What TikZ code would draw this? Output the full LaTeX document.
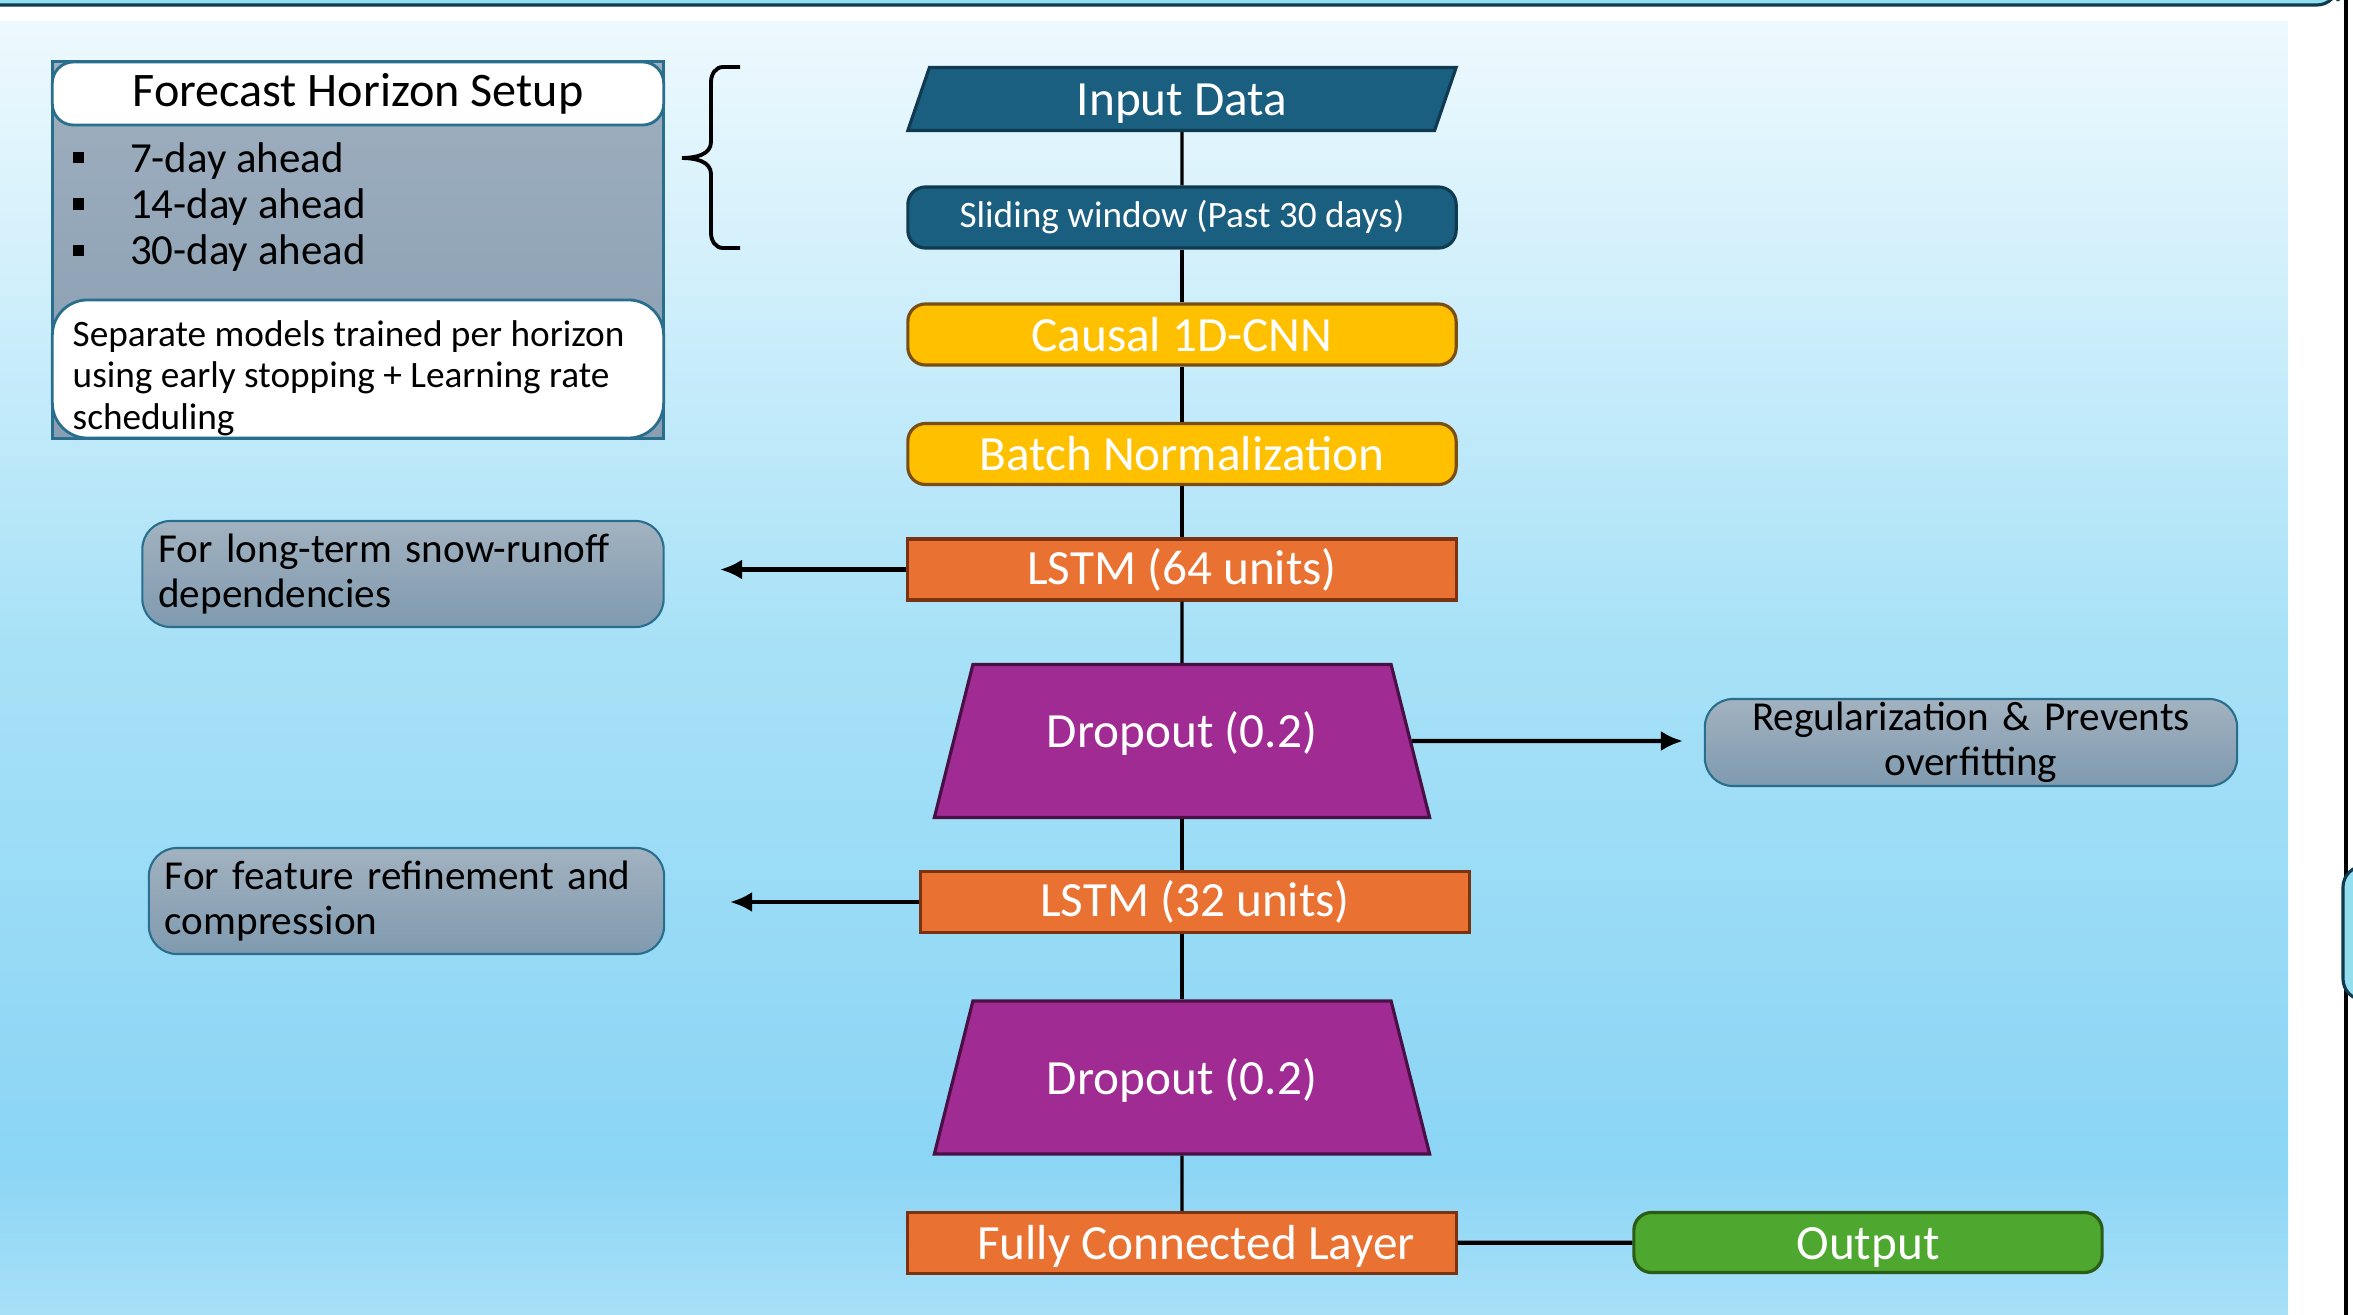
\documentclass[tikz,border=0pt]{standalone}
\usepackage{fontspec}
\setmainfont{Carlito}
\usetikzlibrary{positioning,arrows.meta,shapes.geometric}
\definecolor{bgtop}{HTML}{EEF9FE}
\definecolor{bgmid}{HTML}{A7E1F7}
\definecolor{bgdeep}{HTML}{8BD5F5}
\definecolor{bgbot}{HTML}{A8E0F7}
\definecolor{stripcyan}{HTML}{93DFEF}
\definecolor{teal}{HTML}{1A5E80}
\definecolor{tealdk}{HTML}{0F3A50}
\definecolor{gold}{HTML}{FFC000}
\definecolor{golddk}{HTML}{7A4E12}
\definecolor{rust}{HTML}{E97132}
\definecolor{rustdk}{HTML}{7A3211}
\definecolor{plum}{HTML}{A02B93}
\definecolor{plumdk}{HTML}{4A0F45}
\definecolor{leaf}{HTML}{4EA72E}
\definecolor{leafdk}{HTML}{2A5C17}
\definecolor{slatetop}{HTML}{A2B2C0}
\definecolor{slatebot}{HTML}{7F9AAF}
\definecolor{fhtop}{HTML}{9EAFBE}
\definecolor{fhbot}{HTML}{899EB3}
\definecolor{frame}{HTML}{2A6E8E}
\newcommand{\sqbullet}{\rule[0.2em]{3.3pt}{3.3pt}\hspace{13pt}}

\begin{document}
\begin{tikzpicture}[x=0.01cm, y=-0.01cm, >=Latex,
    layer/.style={draw, line width=0.9pt, text=white, font=\fontsize{14}{16}\selectfont,
      minimum width=5.48cm, minimum height=0.61cm, inner sep=0pt},
    lowtext/.style={text height=11.4pt, text depth=1.9pt},
    datain/.style={layer, lowtext, trapezium, trapezium stretches body=true, trapezium left angle=65.2,
      trapezium right angle=114.8, minimum height=0.63cm, fill=teal, draw=tealdk},
    winbox/.style={layer, fill=teal, draw=tealdk, rounded corners=5pt, font=\fontsize{10.6}{12}\selectfont},
    cnnbox/.style={layer, fill=gold, draw=golddk, rounded corners=5pt},
    lstmbox/.style={layer, fill=rust, draw=rustdk},
    dropbox/.style={layer, lowtext, trapezium, trapezium stretches body=true, trapezium angle=50.5,
      fill=plum, draw=plumdk, minimum width=4.95cm, minimum height=1.53cm},
    outbox/.style={layer, lowtext, fill=leaf, draw=leafdk, rounded corners=5pt, minimum width=4.68cm, minimum height=0.6cm},
    remark/.style={draw=frame, line width=0.6pt, top color=slatetop, bottom color=slatebot,
      rounded corners=8pt, font=\fontsize{11.7}{12.8}\selectfont, inner xsep=0.16cm, inner ysep=0pt,
      minimum height=1.06cm},
    link/.style={line width=0.9pt},
    pointer/.style={line width=1.2pt, -{Latex[length=2.2mm,width=2mm]}}]
  \useasboundingbox (0,0) rectangle (2353,1315);
  % backdrop
  \shade[top color=bgtop, bottom color=bgmid] (0,21) rectangle (2288,651);
  \shade[top color=bgmid, bottom color=bgdeep] (0,650) rectangle (2288,1161);
  \shade[top color=bgdeep, bottom color=bgbot] (0,1160) rectangle (2288,1315);
  \draw[tealdk, fill=stripcyan, line width=0.9pt, rounded corners=6pt] (-20,-20) rectangle (2338,5);
  \draw[line width=1pt] (2346,0) -- (2346,1315);
  \draw[tealdk, fill=stripcyan, line width=0.9pt, rounded corners=6pt] (2343,866) rectangle (2400,1000);

  % forecast horizon panel
  \node[draw=frame, line width=0.8pt, top color=fhtop, bottom color=fhbot, minimum width=6.11cm,
    minimum height=3.76cm, inner sep=0pt] (fhbody) at (358,250) {};
  \node[draw=frame, line width=0.8pt, fill=white, rounded corners=6pt, minimum width=6.11cm,
    minimum height=0.63cm, inner sep=0pt, font=\fontsize{13.7}{15}\selectfont] (fhhead) at (358,93.5) {Forecast Horizon Setup};
  \node[anchor=west, align=left, inner sep=0pt, font=\fontsize{12.2}{13.2}\selectfont] (fhlist) at (72,207)
    {\sqbullet 7-day ahead\\ \sqbullet 14-day ahead\\ \sqbullet 30-day ahead};
  \node[draw=frame, line width=0.8pt, fill=white, rounded corners=10pt, minimum width=6.11cm,
    minimum height=1.38cm, inner sep=0pt] (fhnote) at (358,369) {};
  \node[anchor=west, align=left, inner sep=0pt, font=\fontsize{10.6}{11.8}\selectfont] (fhnotetext) at (72,378)
    {Separate models trained per horizon\\ using early stopping + Learning rate\\ scheduling};
  \draw[line width=1.1pt] (740,67) -- (723,67) to[out=180,in=90] (711,82) -- (711,142)
    to[out=-90,in=0] (682,158) to[out=0,in=90] (711,174) -- (711,233) to[out=-90,in=180] (723,248) -- (740,248);

  % network stack
  \node[datain] (inp) at (1182,99) {Input Data};
  \node[winbox] (win) at (1182,217.5) {Sliding window (Past 30 days)};
  \node[cnnbox] (cnn) at (1182,334.5) {Causal 1D-CNN};
  \node[cnnbox, lowtext] (bn) at (1182,454) {Batch Normalization};
  \node[lstmbox] (lstmA) at (1182,569.5) {LSTM (64 units)};
  \node[dropbox] (dropA) at (1182,741) {\raisebox{3pt}{Dropout (0.2)}};
  \node[lstmbox] (lstmB) at (1195,902) {LSTM (32 units)};
  \node[dropbox] (dropB) at (1182,1077.5) {Dropout (0.2)};
  \node[lstmbox, lowtext] (fc) at (1182,1243) {\hspace{8pt}Fully Connected Layer};
  \node[outbox] (out) at (1868,1242.5) {Output};

  % side remarks
  \node[remark, minimum width=5.21cm, text width=4.89cm, align=left] (noteA) at (403,574)
    {For long-term snow-runoff\\ dependencies};
  \node[remark, minimum width=5.13cm, text width=4.83cm, align=left] (noteB) at (406.5,901)
    {For feature refinement and\\ compression};
  \node[remark, minimum width=5.31cm, minimum height=0.87cm, text width=5cm, align=center] (noteReg) at (1971,742.5)
    {Regularization \& Prevents\\ overfitting};

  \draw[link] (inp) -- (win);
  \draw[link] (win) -- (cnn);
  \draw[link] (cnn) -- (bn);
  \draw[link] (bn) -- (lstmA);
  \draw[link] (lstmA) -- (dropA);
  \draw[link] (dropA.south) -- (dropA.south |- lstmB.north);
  \draw[link] (dropB.north |- lstmB.south) -- (dropB.north);
  \draw[link] (dropB) -- (fc);
  \draw[line width=1.2pt] (fc) -- (out);

  \coordinate (tipA) at (720,569.5);
  \coordinate (tipB) at (730,902);
  \coordinate (tipC) at (1683,741);
  \draw[pointer] (lstmA.west) -- (tipA);
  \draw[pointer] (lstmB.west) -- (tipB);
  \draw[pointer] (dropA.east) -- (tipC);
\end{tikzpicture}
\end{document}
